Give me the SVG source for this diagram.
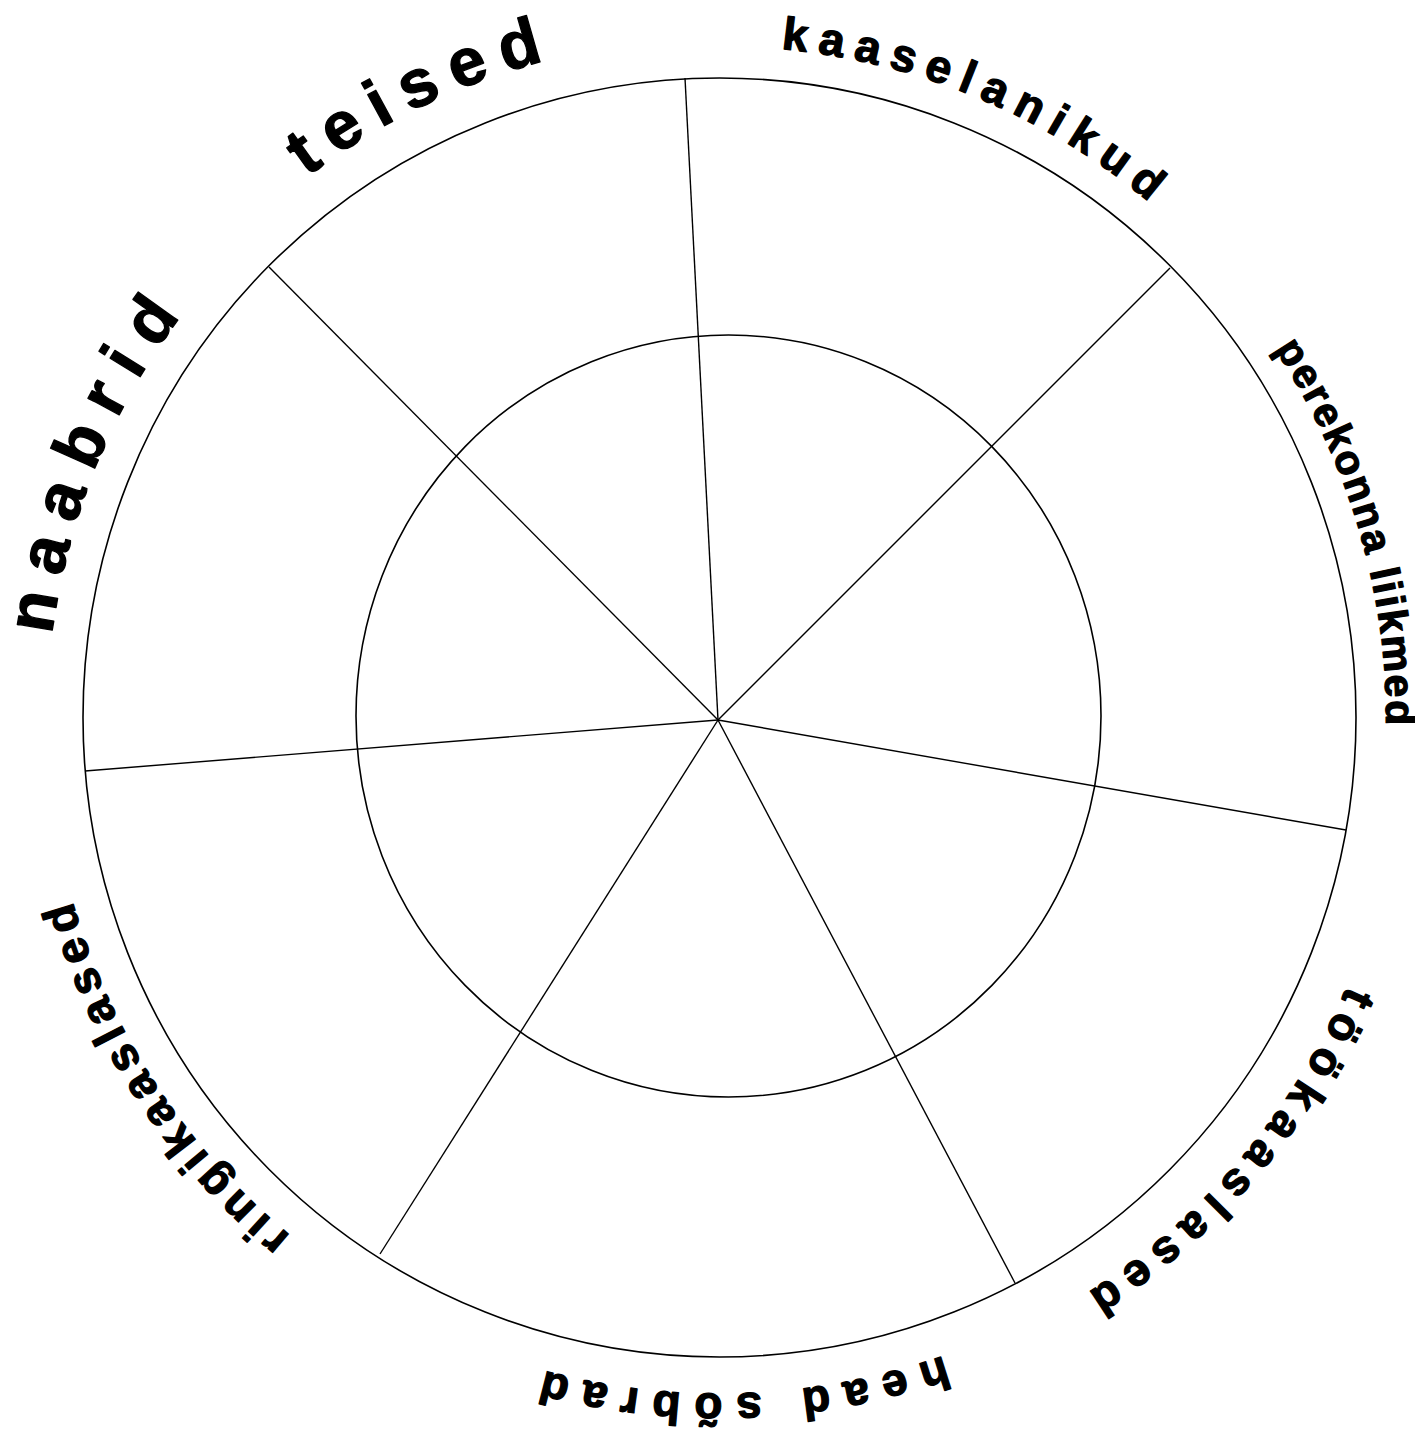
<svg xmlns="http://www.w3.org/2000/svg" width="1415" height="1431" viewBox="0 0 1415 1431">
<style>
.ring{fill:none;stroke:#000;stroke-width:1.6}
.spoke{stroke:#000;stroke-width:1.4;fill:none}
.lbl{font-family:"Liberation Sans",Arial,sans-serif;font-weight:bold;fill:#000;stroke:#000;stroke-width:1.3;stroke-linejoin:round}
.big{font-size:67px}
.mid{font-size:46px}
</style>
<defs>
<path id="p-teised" d="M306.9,177.1 A680,680 0 0 1 1218.7,1179.2"/>
<path id="p-naabrid" d="M52.2,634.9 A672,672 0 0 1 1390.1,684.0"/>
<path id="p-kaas" d="M781.1,48.9 A672,672 0 0 1 774.1,1387.7"/>
<path id="p-pere" d="M1274.6,348.9 A667,667 0 0 1 236.0,1178.0"/>
<path id="p-too" d="M1347.4,985.5 A683,683 0 0 1 53.7,563.7"/>
<path id="p-head" d="M943.5,1355.6 A676,676 0 0 1 387.2,129.1"/>
<path id="p-ring" d="M290.7,1235.8 A672,672 0 0 1 1050.9,133.7"/>
</defs>
<rect width="1415" height="1431" fill="#fff"/>
<g id="rings">
<ellipse id="outer" class="ring" cx="719.5" cy="717.5" rx="636.5" ry="639.5"/>
<ellipse id="inner" class="ring" cx="728.5" cy="716" rx="372.5" ry="381"/>
</g>
<g id="connectors">
<line class="spoke" x1="718" y1="720" x2="685" y2="78"/>
<line class="spoke" x1="718" y1="720" x2="1170" y2="268"/>
<line class="spoke" x1="718" y1="720" x2="1346" y2="830"/>
<line class="spoke" x1="718" y1="720" x2="1015" y2="1283"/>
<line class="spoke" x1="718" y1="720" x2="380" y2="1254"/>
<line class="spoke" x1="718" y1="720" x2="85" y2="771"/>
<line class="spoke" x1="718" y1="720" x2="269" y2="267"/>
</g>
<g id="label-teised"><text class="lbl big" letter-spacing="14.5"><textPath href="#p-teised">teised</textPath></text></g>
<g id="label-naabrid"><text class="lbl big" letter-spacing="17.5"><textPath href="#p-naabrid">naabrid</textPath></text></g>
<g id="label-kaaselanikud"><text class="lbl mid" letter-spacing="10.5"><textPath href="#p-kaas">kaaselanikud</textPath></text></g>
<g id="label-perekonna"><text class="lbl" font-size="41" letter-spacing="2.4"><textPath href="#p-pere">perekonna liikmed</textPath></text></g>
<g id="label-tookaaslased"><text class="lbl mid" letter-spacing="10.6"><textPath href="#p-too">töökaaslased</textPath></text></g>
<g id="label-head"><text class="lbl mid" letter-spacing="13.2"><textPath href="#p-head">head sõbrad</textPath></text></g>
<g id="label-ring"><text class="lbl mid" letter-spacing="6.6"><textPath href="#p-ring">ringikaaslased</textPath></text></g>
</svg>
